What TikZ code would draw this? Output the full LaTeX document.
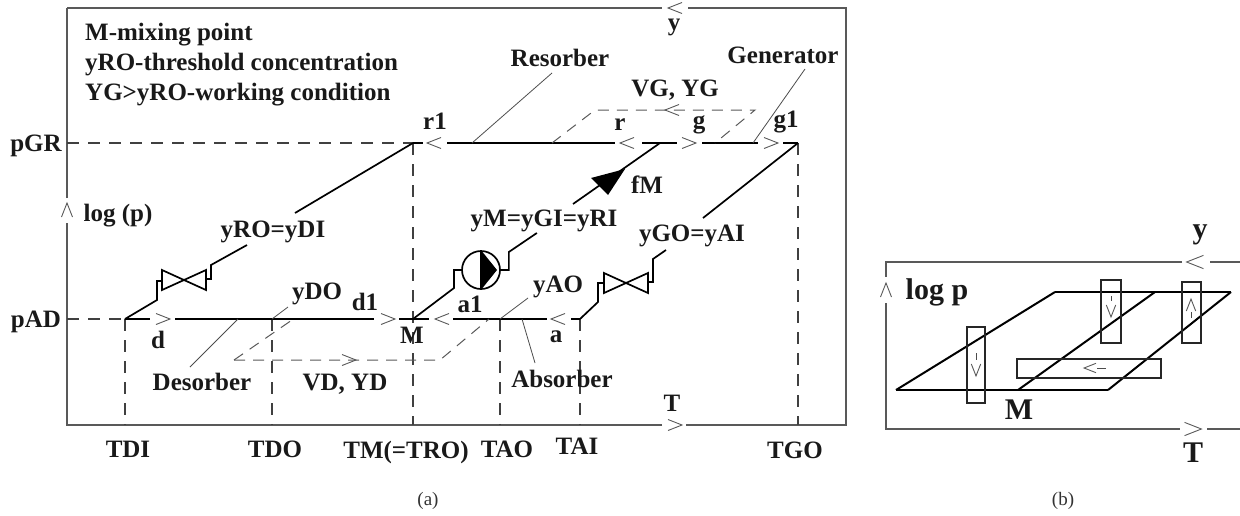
\documentclass[tikz,border=0pt]{standalone}
\usepackage{fontspec}
\setmainfont{Liberation Serif}
\usepackage{tikz}
\usetikzlibrary{positioning,calc}

\begin{document}
\begin{tikzpicture}[
    x=1pt, y=-1pt,
    lbl/.style={font=\fontsize{25}{25}\selectfont\bfseries, inner sep=0pt, text=black!90},
    biglbl/.style={font=\fontsize{30}{30}\selectfont\bfseries, inner sep=0pt, text=black!90},
    sublbl/.style={font=\fontsize{19}{19}\selectfont, inner sep=0pt, text=black!80},
    frameline/.style={draw=black!65, line width=1.5pt},
    hx/.style={draw=black, line width=2.2pt},
    stream/.style={draw=black, line width=1.7pt},
    leader/.style={draw=black!70, line width=0.8pt},
    guide/.style={draw=black!75, line width=1.1pt, dash pattern=on 12pt off 9pt},
    vapor/.style={draw=black!65, line width=1pt, dash pattern=on 11pt off 8pt},
    hollow/.style={draw=black!85, line width=1.2pt},
    chev/.pic={\draw[draw=black!65, line width=0.9pt] (-7,-5.5) -- (7,0) -- (-7,5.5);},
    valve/.pic={\draw[draw=black, line width=1.7pt] (-22,-10) -- (22,10) -- (22,-10) -- (-22,10) -- cycle;}
]
\useasboundingbox (0,0) rectangle (1240,515);

\coordinate (d) at (125,319);
\coordinate (M) at (413,319);
\coordinate (a) at (580,319);
\coordinate (r1) at (413,143);
\coordinate (rm) at (660,143);
\coordinate (g1) at (798,143);
\coordinate (o) at (67,425);
\coordinate (p1) at (67,8);

% panel a frame
\draw[frameline] (p1) -- (662,8);
\draw[frameline] (688,8) -- (846,8) -- (846,425) -- (686,425);
\draw[frameline] (662,425) -- (o) -- (67,223);
\draw[frameline] (67,198) -- (p1);
\pic[rotate=180] at (675,8) {chev};
\pic at (675,425) {chev};
\pic[rotate=90] at (67,210) {chev};

\draw[guide] (67,143) -- (r1);
\draw[guide] (67,319) -- (d);
\draw[guide] (d) -- (125,425);
\draw[guide] (272,319) -- (272,425);
\draw[guide] (r1) -- (413,425);
\draw[guide] (500,319) -- (500,425);
\draw[guide] (a) -- (580,425);
\draw[guide] (g1) -- (798,425);

\draw[hx] (r1) -- (423,143);
\draw[hx] (447,143) -- (615,143);
\draw[hx] (642,143) -- (677,143);
\draw[hx] (702,143) -- (758,143);
\draw[hx] (783,143) -- (g1);
\pic[rotate=180] at (434,143) {chev};
\pic[rotate=180] at (627,143) {chev};
\pic at (689,143) {chev};
\pic at (771,143) {chev};

\draw[hx] (d) -- (150,319);
\draw[hx] (175,319) -- (374,319);
\draw[hx] (399,319) -- (429,319);
\draw[hx] (453,319) -- (547,319);
\draw[hx] (571,319) -- (a);
\pic at (163,319) {chev};
\pic at (388,319) {chev};
\pic[rotate=180] at (442,319) {chev};
\pic[rotate=180] at (558,319) {chev};

\pic at (184,280) {valve};
\pic at (626,283) {valve};
\draw[stream] (d) -- ++(32,-19) -- ++(0,-19) -- ++(5,0);
\draw[stream] (206,279) -- ++(5,0) -- ++(0,-14) -- ++(36,-20);
\draw[stream] (295,213) -- (r1);
\draw[stream] (a) -- ++(18,-17) -- ++(0,-19) -- ++(6,0);
\draw[stream] (648,282) -- ++(5,0) -- ++(0,-23) -- ++(13,-9);
\draw[stream] (703,218) -- (g1);

\node[circle, draw=black, line width=1.7pt, minimum size=38pt, inner sep=0pt] (pump) at (481,270) {};
\fill[black] (pump.north) -- (497,270) -- (pump.south) -- cycle;
\draw[stream] (pump.north) -- (pump.south);
\draw[stream] (M) -- ++(41,-31) -- ++(0,-18) -- (pump.west);
\draw[stream] (pump.east) -- ++(8,0) -- ++(0,-18) -- ++(28,-19);
\draw[stream] (573,204) -- (rm);
\fill[black] (625,169) -- (591,178) -- (608,195) -- cycle;

\draw[vapor] (552,143) -- (595,110) -- (755,110) -- (715,143);
\pic[rotate=180] at (672,110) {chev};
\draw[vapor] (234,360) -- (292,320);
\draw[vapor] (234,360) -- (440,360) -- (489,319);
\pic at (349,360) {chev};

\node[lbl, anchor=west] (mixing) at (85,35) {M-mixing point};
\node[lbl, anchor=west] (threshold) at (85,65) {yRO-threshold concentration};
\node[lbl, anchor=west] (working) at (85,95) {YG>yRO-working condition};
\node[lbl] (pgr) at (36,146) {pGR};
\node[lbl] (pad) at (36,322) {pAD};
\node[lbl] (logp) at (118,216) {log (p)};
\node[lbl] (ytop) at (674,27) {y};
\node[lbl] (ttop) at (672,403) {T};

\node[lbl] (lr1) at (435,121) {r1};
\node[lbl] (lr) at (620,125) {r};
\node[lbl] (lg) at (699,125) {g};
\node[lbl] (lg1) at (786,122) {g1};
\node[lbl] (ld) at (158,340) {d};
\node[lbl] (ld1) at (365,302) {d1};
\node[lbl] (lM) at (412,335) {M};
\node[lbl] (la1) at (470,304) {a1};
\node[lbl] (la) at (556,337) {a};
\node[lbl] (fm) at (647,185) {fM};

\node[lbl] (vg) at (675,90) {VG, YG};
\node[lbl] (vd) at (345,384) {VD, YD};
\node[lbl] (yro) at (273,232) {yRO=yDI};
\node[lbl] (ym) at (544,221) {yM=yGI=yRI};
\node[lbl] (ygo) at (692,236) {yGO=yAI};
\node[lbl] (ydo) at (317,294) {yDO};
\node[lbl] (yao) at (558,287) {yAO};

\node[lbl] (resorber) at (560,58) {Resorber};
\node[lbl] (generator) at (783,55) {Generator};
\node[lbl] (desorber) at (202,382) {Desorber};
\node[lbl] (absorber) at (562,379) {Absorber};
\draw[leader] (552,73) -- (472,143);
\draw[leader] (805,69) -- (753,143);
\draw[leader] (190,367) -- (238,319);
\draw[leader] (535,363) -- (522,319);
\draw[leader] (288,307) -- (272,319);
\draw[leader] (528,298) -- (500,319);

\node[lbl] (tdi) at (128,449) {TDI};
\node[lbl] (tdo) at (275,449) {TDO};
\node[lbl] (tm) at (406,452) {TM(=TRO)};
\node[lbl] (tao) at (507,449) {TAO};
\node[lbl] (tai) at (577,446) {TAI};
\node[lbl] (tgo) at (795,450) {TGO};
\node[sublbl] (capa) at (428,501) {(a)};

% panel b
\coordinate (b1) at (896,390);
\coordinate (b2) at (1018,390);
\coordinate (b3) at (1108,390);
\coordinate (b4) at (1055,292);
\coordinate (b5) at (1155,292);
\coordinate (b6) at (1231,292);

\draw[frameline] (1240,262) -- (1210,262);
\draw[frameline] (1182,262) -- (886,262) -- (886,277);
\draw[frameline] (886,303) -- (886,429) -- (1180,429);
\draw[frameline] (1207,429) -- (1240,429);
\pic[rotate=180, scale=1.2] at (1195,262) {chev};
\pic[scale=1.2] at (1193,429) {chev};
\pic[rotate=90] at (886,290) {chev};

\draw[hx, line width=2.6pt] (b1) -- (b3);
\draw[hx, line width=2.6pt] (b4) -- (b6);
\draw[stream, line width=2pt] (b1) -- (b4);
\draw[stream, line width=2pt] (b2) -- (b5);
\draw[stream, line width=2pt] (b3) -- (b6);

\node[hollow, draw, minimum width=18pt, minimum height=76pt, inner sep=0pt] (boxd) at (976,365) {};
\node[hollow, draw, minimum width=20pt, minimum height=63pt, inner sep=0pt] (boxr) at (1111,311.5) {};
\node[hollow, draw, minimum width=19pt, minimum height=61pt, inner sep=0pt] (boxg) at (1191.5,312.5) {};
\node[hollow, draw, minimum width=144pt, minimum height=19pt, inner sep=0pt] (boxa) at (1089,368.5) {};

\pic[rotate=-90, scale=0.85] at (976,370) {chev};
\draw[leader] (976,353) -- (976,360);
\pic[rotate=-90, scale=0.85] at (1111,311) {chev};
\draw[leader] (1111,296) -- (1111,301);
\pic[rotate=90, scale=0.85] at (1191,305) {chev};
\draw[leader] (1191,312) -- (1191,318);
\pic[rotate=180, scale=0.85] at (1090,368) {chev};
\draw[leader] (1097,368) -- (1106,368);

\node[biglbl] (by) at (1200,235) {y};
\node[biglbl] (blogp) at (937,292) {log p};
\node[biglbl] (bM) at (1019,410) {M};
\node[biglbl] (bT) at (1193,453) {T};
\node[sublbl] (capb) at (1063,501) {(b)};

\end{tikzpicture}
\end{document}
